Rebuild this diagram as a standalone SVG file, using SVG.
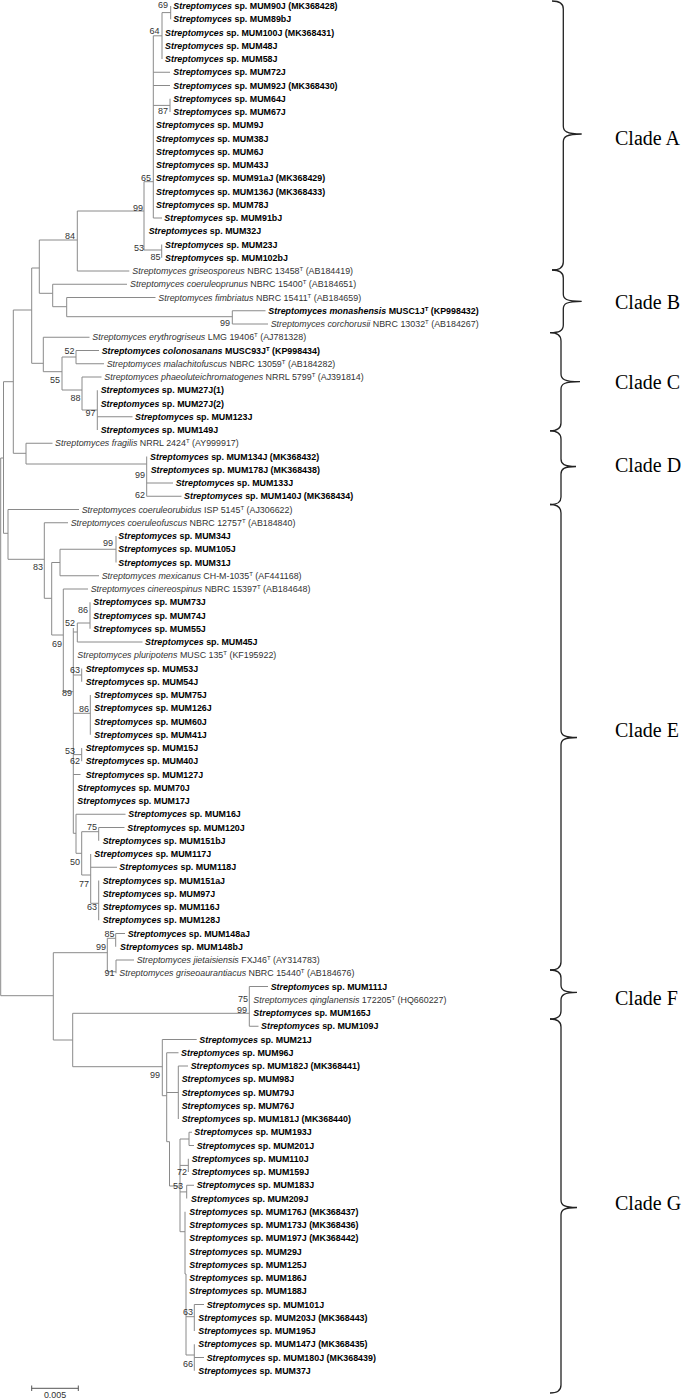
<svg xmlns="http://www.w3.org/2000/svg" width="685" height="1399" viewBox="0 0 685 1399">
<style>
.t{font-family:"Liberation Sans",Arial,sans-serif;font-size:8.9px}
.b{font-weight:bold;fill:#000}
.r{fill:#333}
.i{font-style:italic}
.bs{font-family:"Liberation Sans",Arial,sans-serif;font-size:9px;fill:#333;text-anchor:end}
.clade{font-family:"Liberation Serif","Times New Roman",serif;font-size:20px;fill:#000}
.tree{fill:none;stroke:#8a8a8a;stroke-width:1}
.brace{fill:none;stroke:#222;stroke-width:1.3}
</style>
<rect width="685" height="1399" fill="#fff"/>
<g id="connectors">
<path class="tree" d="M170.7 6V19.25 M162 12.6H170.7 M162 12.6V59 M153.3 35.8H162 M153.3 72.25H170 M153.3 85.5H170 M170 98.75V112 M153.3 105.4H170 M153.3 35.8V218H162 M144 181.7H153.3 M144 181.7V250 M161.7 244.5V257.75 M144 250H161.7 M77.3 211H144 M77.3 211V271H129.3 M39.3 240H77.3 M39.3 240V293.3H52.7 M52.7 284.25V306.7 M52.7 284.25H127 M52.7 306.7H66.7 M66.7 297.5V316.7 M66.7 297.5H155.5 M66.7 316.7H232.3 M232.3 310.75V324 M232.3 310.75H265.5 M232.3 324H268"/>
<path class="tree" d="M31.7 268H39.3 M31.7 268V363.3H43.3 M43.3 337.25V371.7 M43.3 337.25H89.5 M43.3 371.7H62 M62 357V390 M62 357H76 M62 390H82 M76 350.5V363.75 M76 350.5H99 M76 363.75H104 M82 377V410 M82 377H101.5 M82 410H97.3 M97.3 390.25V430 M97.3 416.75H132.5 M13.3 310H31.7 M13.3 310V453.3H26 M26 443.25V464 M26 443.25H52.5 M26 464H146.7 M146.7 456.5V496.25 M146.7 483H173 M146.7 496.25H181.5"/>
<path class="tree" d="M3.5 381.7H13.3 M3.5 381.7V533.3H8 M0.7 458H3.5 M8 509.5V559.3 M8 509.5H79 M8 559.3H44.3 M44.3 522.75V598.3 M44.3 522.75H68 M44.3 598.3H51.7 M51.7 562.5V635 M51.7 562.5H60 M51.7 635H63.3 M60 549.25V575.75 M60 549.25H116 M60 575.75H99 M116 536V562.5"/>
<path class="tree" d="M63.3 589V691.7 M63.3 589H88 M63.3 691.7H73.3 M73.3 628V833.3 M77.3 623V642 M73.3 632H77.3 M77.3 623H90 M77.3 642H142.5 M90 602.25V628.75 M81.7 668.5V681.75 M73.3 675H81.7 M90.3 695V734.75 M73.3 713.3H90.3 M81.7 748V761.25 M73.3 754.6H81.7 M73.3 774.5H80.5 M73.3 833.3H76 M76 814.25V853.3 M76 814.25H125.5 M76 853.3H81.7 M81.7 831.7V875 M81.7 831.7H98.7 M81.7 875H90.7 M98.7 827.5V840.75 M98.7 827.5H124.5 M90.7 854V903.3 M90.7 867.25H117 M90.7 903.3H98.7 M98.7 880.5V920.25"/>
<path class="tree" d="M0.7 458V995.7H53.3 M53.3 952.7V1040 M53.3 952.7H107.3 M53.3 1040H72.7 M107.3 938.3V971.7 M107.3 938.3H115.7 M107.3 971.7H116 M115.7 933.5V946.75 M115.7 933.5H125 M116 960V973.25 M116 960H134 M72.7 1013.3V1066.7 M72.7 1013.3H249.3 M72.7 1066.7H162.3 M249.3 986.5V1026.25 M249.3 986.5H268 M249.3 1026.25H258.5"/>
<path class="tree" d="M162.3 1039.5V1095.7 M162.3 1039.5H196.7 M162.3 1095.7H166.7 M166.7 1052.75V1141.7 M166.7 1052.75H178.5 M166.7 1092.5H178.3 M178.3 1066V1119 M178.3 1066H188 M166.7 1141.7H169.5V1186H180 M180 1139V1231.7 M180 1139H189 M189 1132.25V1145.5 M189 1132.25H192 M189 1145.5H194 M180 1165.4H188.3 M188.3 1158.75V1172 M180 1191.9H186.7 M186.7 1185.25V1198.5 M186.7 1185.25H194 M180 1231.7H185 M185 1211.75V1274H186 M186 1274V1355 M186 1316.7H194.3 M194.3 1304.5V1331 M194.3 1304.5H204 M186 1355H194.3 M194.3 1344.25V1370.75 M194.3 1357.5H204"/>
</g>
<g id="scale">
<path d="M31.7 1388.3H78.3 M31.7 1385.5V1391 M78.3 1385.5V1391" fill="none" stroke="#555" stroke-width="1"/>
<text x="55" y="1398" class="t r" text-anchor="middle">0.005</text>
</g>
<g id="bootstrap">
<text class="bs" x="168" y="7.7">69</text>
<text class="bs" x="159.5" y="34.2">64</text>
<text class="bs" x="168" y="114.2">87</text>
<text class="bs" x="151" y="181.2">65</text>
<text class="bs" x="143" y="211.2">99</text>
<text class="bs" x="75" y="239.2">84</text>
<text class="bs" x="144" y="250.7">53</text>
<text class="bs" x="160.5" y="259.9">85</text>
<text class="bs" x="230" y="326.2">99</text>
<text class="bs" x="74.5" y="354.2">52</text>
<text class="bs" x="60" y="383.2">55</text>
<text class="bs" x="80.5" y="401.2">88</text>
<text class="bs" x="95.5" y="415.7">97</text>
<text class="bs" x="145" y="477.9">99</text>
<text class="bs" x="145" y="498.2">62</text>
<text class="bs" x="113" y="545.5">99</text>
<text class="bs" x="43" y="570.2">83</text>
<text class="bs" x="88" y="613.2">86</text>
<text class="bs" x="75" y="625.9">52</text>
<text class="bs" x="62" y="647.2">69</text>
<text class="bs" x="80" y="673.2">63</text>
<text class="bs" x="72" y="695.9">89</text>
<text class="bs" x="89" y="711.5">86</text>
<text class="bs" x="75" y="753.9">53</text>
<text class="bs" x="80" y="763.9">62</text>
<text class="bs" x="97" y="830.2">75</text>
<text class="bs" x="80" y="864.9">50</text>
<text class="bs" x="89" y="886.5">77</text>
<text class="bs" x="97" y="909.9">63</text>
<text class="bs" x="114.5" y="936.5">85</text>
<text class="bs" x="106" y="949.9">99</text>
<text class="bs" x="114.5" y="975.5">91</text>
<text class="bs" x="248" y="1001.5">75</text>
<text class="bs" x="247" y="1012.5">99</text>
<text class="bs" x="160" y="1077.5">99</text>
<text class="bs" x="187" y="1174.9">72</text>
<text class="bs" x="183" y="1189.2">53</text>
<text class="bs" x="193" y="1314.9">63</text>
<text class="bs" x="193" y="1366.5">66</text>
</g>
<g id="n1"><text class="t b" x="173.3" y="9.2"><tspan class="i">Streptomyces</tspan> sp. MUM90J (MK368428)</text></g>
<g id="n2"><text class="t b" x="173.3" y="22.45"><tspan class="i">Streptomyces</tspan> sp. MUM89bJ</text></g>
<g id="n3"><text class="t b" x="165" y="35.7"><tspan class="i">Streptomyces</tspan> sp. MUM100J (MK368431)</text></g>
<g id="n4"><text class="t b" x="165" y="48.95"><tspan class="i">Streptomyces</tspan> sp. MUM48J</text></g>
<g id="n5"><text class="t b" x="165" y="62.2"><tspan class="i">Streptomyces</tspan> sp. MUM58J</text></g>
<g id="n6"><text class="t b" x="173.3" y="75.45"><tspan class="i">Streptomyces</tspan> sp. MUM72J</text></g>
<g id="n7"><text class="t b" x="173.3" y="88.7"><tspan class="i">Streptomyces</tspan> sp. MUM92J (MK368430)</text></g>
<g id="n8"><text class="t b" x="173.3" y="101.95"><tspan class="i">Streptomyces</tspan> sp. MUM64J</text></g>
<g id="n9"><text class="t b" x="173.3" y="115.2"><tspan class="i">Streptomyces</tspan> sp. MUM67J</text></g>
<g id="n10"><text class="t b" x="156" y="128.45"><tspan class="i">Streptomyces</tspan> sp. MUM9J</text></g>
<g id="n11"><text class="t b" x="156" y="141.7"><tspan class="i">Streptomyces</tspan> sp. MUM38J</text></g>
<g id="n12"><text class="t b" x="156" y="154.95"><tspan class="i">Streptomyces</tspan> sp. MUM6J</text></g>
<g id="n13"><text class="t b" x="156" y="168.2"><tspan class="i">Streptomyces</tspan> sp. MUM43J</text></g>
<g id="n14"><text class="t b" x="156" y="181.45"><tspan class="i">Streptomyces</tspan> sp. MUM91aJ (MK368429)</text></g>
<g id="n15"><text class="t b" x="156" y="194.7"><tspan class="i">Streptomyces</tspan> sp. MUM136J (MK368433)</text></g>
<g id="n16"><text class="t b" x="156" y="207.95"><tspan class="i">Streptomyces</tspan> sp. MUM78J</text></g>
<g id="n17"><text class="t b" x="164.3" y="221.2"><tspan class="i">Streptomyces</tspan> sp. MUM91bJ</text></g>
<g id="n18"><text class="t b" x="148.7" y="234.45"><tspan class="i">Streptomyces</tspan> sp. MUM32J</text></g>
<g id="n19"><text class="t b" x="165" y="247.7"><tspan class="i">Streptomyces</tspan> sp. MUM23J</text></g>
<g id="n20"><text class="t b" x="165" y="260.95"><tspan class="i">Streptomyces</tspan> sp. MUM102bJ</text></g>
<g id="n21"><text class="t r" x="132.3" y="274.2"><tspan class="i">Streptomyces griseosporeus</tspan> NBRC 13458<tspan font-size="6" dy="-3">T</tspan><tspan dy="3"> (AB184419)</tspan></text></g>
<g id="n22"><text class="t r" x="130" y="287.45"><tspan class="i">Streptomyces coeruleoprunus</tspan> NBRC 15400<tspan font-size="6" dy="-3">T</tspan><tspan dy="3"> (AB184651)</tspan></text></g>
<g id="n23"><text class="t r" x="158.3" y="300.7"><tspan class="i">Streptomyces fimbriatus</tspan> NBRC 15411<tspan font-size="6" dy="-3">T</tspan><tspan dy="3"> (AB184659)</tspan></text></g>
<g id="n24"><text class="t b" x="268.3" y="313.95"><tspan class="i">Streptomyces monashensis</tspan> MUSC1J<tspan font-size="6" dy="-3">T</tspan><tspan dy="3"> (KP998432)</tspan></text></g>
<g id="n25"><text class="t r" x="270.7" y="327.2"><tspan class="i">Streptomyces corchorusii</tspan> NBRC 13032<tspan font-size="6" dy="-3">T</tspan><tspan dy="3"> (AB184267)</tspan></text></g>
<g id="n26"><text class="t r" x="92.3" y="340.45"><tspan class="i">Streptomyces erythrogriseus</tspan> LMG 19406<tspan font-size="6" dy="-3">T</tspan><tspan dy="3"> (AJ781328)</tspan></text></g>
<g id="n27"><text class="t b" x="101.7" y="353.7"><tspan class="i">Streptomyces colonosanans</tspan> MUSC93J<tspan font-size="6" dy="-3">T</tspan><tspan dy="3"> (KP998434)</tspan></text></g>
<g id="n28"><text class="t r" x="106.7" y="366.95"><tspan class="i">Streptomyces malachitofuscus</tspan> NBRC 13059<tspan font-size="6" dy="-3">T</tspan><tspan dy="3"> (AB184282)</tspan></text></g>
<g id="n29"><text class="t r" x="104.3" y="380.2"><tspan class="i">Streptomyces phaeoluteichromatogenes</tspan> NRRL 5799<tspan font-size="6" dy="-3">T</tspan><tspan dy="3"> (AJ391814)</tspan></text></g>
<g id="n30"><text class="t b" x="100.7" y="393.45"><tspan class="i">Streptomyces</tspan> sp. MUM27J(1)</text></g>
<g id="n31"><text class="t b" x="100.7" y="406.7"><tspan class="i">Streptomyces</tspan> sp. MUM27J(2)</text></g>
<g id="n32"><text class="t b" x="135" y="419.95"><tspan class="i">Streptomyces</tspan> sp. MUM123J</text></g>
<g id="n33"><text class="t b" x="100.7" y="433.2"><tspan class="i">Streptomyces</tspan> sp. MUM149J</text></g>
<g id="n34"><text class="t r" x="55" y="446.45"><tspan class="i">Streptomyces fragilis</tspan> NRRL 2424<tspan font-size="6" dy="-3">T</tspan><tspan dy="3"> (AY999917)</tspan></text></g>
<g id="n35"><text class="t b" x="150" y="459.7"><tspan class="i">Streptomyces</tspan> sp. MUM134J (MK368432)</text></g>
<g id="n36"><text class="t b" x="150.7" y="472.95"><tspan class="i">Streptomyces</tspan> sp. MUM178J (MK368438)</text></g>
<g id="n37"><text class="t b" x="175.7" y="486.2"><tspan class="i">Streptomyces</tspan> sp. MUM133J</text></g>
<g id="n38"><text class="t b" x="184" y="499.45"><tspan class="i">Streptomyces</tspan> sp. MUM140J (MK368434)</text></g>
<g id="n39"><text class="t r" x="81.7" y="512.7"><tspan class="i">Streptomyces coeruleorubidus</tspan> ISP 5145<tspan font-size="6" dy="-3">T</tspan><tspan dy="3"> (AJ306622)</tspan></text></g>
<g id="n40"><text class="t r" x="70.7" y="525.95"><tspan class="i">Streptomyces coeruleofuscus</tspan> NBRC 12757<tspan font-size="6" dy="-3">T</tspan><tspan dy="3"> (AB184840)</tspan></text></g>
<g id="n41"><text class="t b" x="118.3" y="539.2"><tspan class="i">Streptomyces</tspan> sp. MUM34J</text></g>
<g id="n42"><text class="t b" x="118.3" y="552.45"><tspan class="i">Streptomyces</tspan> sp. MUM105J</text></g>
<g id="n43"><text class="t b" x="118.3" y="565.7"><tspan class="i">Streptomyces</tspan> sp. MUM31J</text></g>
<g id="n44"><text class="t r" x="101.7" y="578.95"><tspan class="i">Streptomyces mexicanus</tspan> CH-M-1035<tspan font-size="6" dy="-3">T</tspan><tspan dy="3"> (AF441168)</tspan></text></g>
<g id="n45"><text class="t r" x="90.7" y="592.2"><tspan class="i">Streptomyces cinereospinus</tspan> NBRC 15397<tspan font-size="6" dy="-3">T</tspan><tspan dy="3"> (AB184648)</tspan></text></g>
<g id="n46"><text class="t b" x="93.3" y="605.45"><tspan class="i">Streptomyces</tspan> sp. MUM73J</text></g>
<g id="n47"><text class="t b" x="93.3" y="618.7"><tspan class="i">Streptomyces</tspan> sp. MUM74J</text></g>
<g id="n48"><text class="t b" x="93.3" y="631.95"><tspan class="i">Streptomyces</tspan> sp. MUM55J</text></g>
<g id="n49"><text class="t b" x="145" y="645.2"><tspan class="i">Streptomyces</tspan> sp. MUM45J</text></g>
<g id="n50"><text class="t r" x="77.3" y="658.45"><tspan class="i">Streptomyces pluripotens</tspan> MUSC 135<tspan font-size="6" dy="-3">T</tspan><tspan dy="3"> (KF195922)</tspan></text></g>
<g id="n51"><text class="t b" x="85.7" y="671.7"><tspan class="i">Streptomyces</tspan> sp. MUM53J</text></g>
<g id="n52"><text class="t b" x="85.7" y="684.95"><tspan class="i">Streptomyces</tspan> sp. MUM54J</text></g>
<g id="n53"><text class="t b" x="94.3" y="698.2"><tspan class="i">Streptomyces</tspan> sp. MUM75J</text></g>
<g id="n54"><text class="t b" x="94.3" y="711.45"><tspan class="i">Streptomyces</tspan> sp. MUM126J</text></g>
<g id="n55"><text class="t b" x="94.3" y="724.7"><tspan class="i">Streptomyces</tspan> sp. MUM60J</text></g>
<g id="n56"><text class="t b" x="94.3" y="737.95"><tspan class="i">Streptomyces</tspan> sp. MUM41J</text></g>
<g id="n57"><text class="t b" x="85.7" y="751.2"><tspan class="i">Streptomyces</tspan> sp. MUM15J</text></g>
<g id="n58"><text class="t b" x="85.7" y="764.45"><tspan class="i">Streptomyces</tspan> sp. MUM40J</text></g>
<g id="n59"><text class="t b" x="85.7" y="777.7"><tspan class="i">Streptomyces</tspan> sp. MUM127J</text></g>
<g id="n60"><text class="t b" x="77.3" y="790.95"><tspan class="i">Streptomyces</tspan> sp. MUM70J</text></g>
<g id="n61"><text class="t b" x="77.3" y="804.2"><tspan class="i">Streptomyces</tspan> sp. MUM17J</text></g>
<g id="n62"><text class="t b" x="128.3" y="817.45"><tspan class="i">Streptomyces</tspan> sp. MUM16J</text></g>
<g id="n63"><text class="t b" x="127.3" y="830.7"><tspan class="i">Streptomyces</tspan> sp. MUM120J</text></g>
<g id="n64"><text class="t b" x="102.7" y="843.95"><tspan class="i">Streptomyces</tspan> sp. MUM151bJ</text></g>
<g id="n65"><text class="t b" x="94.3" y="857.2"><tspan class="i">Streptomyces</tspan> sp. MUM117J</text></g>
<g id="n66"><text class="t b" x="119.3" y="870.45"><tspan class="i">Streptomyces</tspan> sp. MUM118J</text></g>
<g id="n67"><text class="t b" x="102.7" y="883.7"><tspan class="i">Streptomyces</tspan> sp. MUM151aJ</text></g>
<g id="n68"><text class="t b" x="102.7" y="896.95"><tspan class="i">Streptomyces</tspan> sp. MUM97J</text></g>
<g id="n69"><text class="t b" x="102.7" y="910.2"><tspan class="i">Streptomyces</tspan> sp. MUM116J</text></g>
<g id="n70"><text class="t b" x="102.7" y="923.45"><tspan class="i">Streptomyces</tspan> sp. MUM128J</text></g>
<g id="n71"><text class="t b" x="127.7" y="936.7"><tspan class="i">Streptomyces</tspan> sp. MUM148aJ</text></g>
<g id="n72"><text class="t b" x="120" y="949.95"><tspan class="i">Streptomyces</tspan> sp. MUM148bJ</text></g>
<g id="n73"><text class="t r" x="136.7" y="963.2"><tspan class="i">Streptomyces jietaisiensis</tspan> FXJ46<tspan font-size="6" dy="-3">T</tspan><tspan dy="3"> (AY314783)</tspan></text></g>
<g id="n74"><text class="t r" x="119.3" y="976.45"><tspan class="i">Streptomyces griseoaurantiacus</tspan> NBRC 15440<tspan font-size="6" dy="-3">T</tspan><tspan dy="3"> (AB184676)</tspan></text></g>
<g id="n75"><text class="t b" x="270.7" y="989.7"><tspan class="i">Streptomyces</tspan> sp. MUM111J</text></g>
<g id="n76"><text class="t r" x="253.3" y="1002.95"><tspan class="i">Streptomyces qinglanensis</tspan> 172205<tspan font-size="6" dy="-3">T</tspan><tspan dy="3"> (HQ660227)</tspan></text></g>
<g id="n77"><text class="t b" x="253.3" y="1016.2"><tspan class="i">Streptomyces</tspan> sp. MUM165J</text></g>
<g id="n78"><text class="t b" x="261" y="1029.45"><tspan class="i">Streptomyces</tspan> sp. MUM109J</text></g>
<g id="n79"><text class="t b" x="199.3" y="1042.7"><tspan class="i">Streptomyces</tspan> sp. MUM21J</text></g>
<g id="n80"><text class="t b" x="181" y="1055.95"><tspan class="i">Streptomyces</tspan> sp. MUM96J</text></g>
<g id="n81"><text class="t b" x="190.7" y="1069.2"><tspan class="i">Streptomyces</tspan> sp. MUM182J (MK368441)</text></g>
<g id="n82"><text class="t b" x="181.7" y="1082.45"><tspan class="i">Streptomyces</tspan> sp. MUM98J</text></g>
<g id="n83"><text class="t b" x="181.7" y="1095.7"><tspan class="i">Streptomyces</tspan> sp. MUM79J</text></g>
<g id="n84"><text class="t b" x="181.7" y="1108.95"><tspan class="i">Streptomyces</tspan> sp. MUM76J</text></g>
<g id="n85"><text class="t b" x="181.7" y="1122.2"><tspan class="i">Streptomyces</tspan> sp. MUM181J (MK368440)</text></g>
<g id="n86"><text class="t b" x="194.3" y="1135.45"><tspan class="i">Streptomyces</tspan> sp. MUM193J</text></g>
<g id="n87"><text class="t b" x="196.7" y="1148.7"><tspan class="i">Streptomyces</tspan> sp. MUM201J</text></g>
<g id="n88"><text class="t b" x="191.7" y="1161.95"><tspan class="i">Streptomyces</tspan> sp. MUM110J</text></g>
<g id="n89"><text class="t b" x="191.7" y="1175.2"><tspan class="i">Streptomyces</tspan> sp. MUM159J</text></g>
<g id="n90"><text class="t b" x="196.7" y="1188.45"><tspan class="i">Streptomyces</tspan> sp. MUM183J</text></g>
<g id="n91"><text class="t b" x="191" y="1201.7"><tspan class="i">Streptomyces</tspan> sp. MUM209J</text></g>
<g id="n92"><text class="t b" x="189.3" y="1214.95"><tspan class="i">Streptomyces</tspan> sp. MUM176J (MK368437)</text></g>
<g id="n93"><text class="t b" x="189.3" y="1228.2"><tspan class="i">Streptomyces</tspan> sp. MUM173J (MK368436)</text></g>
<g id="n94"><text class="t b" x="189.3" y="1241.45"><tspan class="i">Streptomyces</tspan> sp. MUM197J (MK368442)</text></g>
<g id="n95"><text class="t b" x="189.3" y="1254.7"><tspan class="i">Streptomyces</tspan> sp. MUM29J</text></g>
<g id="n96"><text class="t b" x="189.3" y="1267.95"><tspan class="i">Streptomyces</tspan> sp. MUM125J</text></g>
<g id="n97"><text class="t b" x="189.3" y="1281.2"><tspan class="i">Streptomyces</tspan> sp. MUM186J</text></g>
<g id="n98"><text class="t b" x="189.3" y="1294.45"><tspan class="i">Streptomyces</tspan> sp. MUM188J</text></g>
<g id="n99"><text class="t b" x="206.7" y="1307.7"><tspan class="i">Streptomyces</tspan> sp. MUM101J</text></g>
<g id="n100"><text class="t b" x="198.3" y="1320.95"><tspan class="i">Streptomyces</tspan> sp. MUM203J (MK368443)</text></g>
<g id="n101"><text class="t b" x="198.3" y="1334.2"><tspan class="i">Streptomyces</tspan> sp. MUM195J</text></g>
<g id="n102"><text class="t b" x="198.3" y="1347.45"><tspan class="i">Streptomyces</tspan> sp. MUM147J (MK368435)</text></g>
<g id="n103"><text class="t b" x="206.7" y="1360.7"><tspan class="i">Streptomyces</tspan> sp. MUM180J (MK368439)</text></g>
<g id="n104"><text class="t b" x="198.3" y="1373.95"><tspan class="i">Streptomyces</tspan> sp. MUM37J</text></g>
<g id="cladeA"><path class="brace" d="M552 1C559 1 563.3 3 563.3 9V126C563.3 131 566 134 581.7 134C566 134 563.3 137 563.3 142V262C563.3 268 559 270 552 270"/><text class="clade" x="615" y="145">Clade A</text></g>
<g id="cladeB"><path class="brace" d="M552 270C559 270 563.3 272 563.3 278V294C563.3 299 566 301.3 581.7 301.3C566 301.3 563.3 304 563.3 309V325C563.3 331 559 332.6 550 332.6"/><text class="clade" x="615" y="308.5">Clade B</text></g>
<g id="cladeC"><path class="brace" d="M550 332.6C557 332.6 561 335 561 341V374C561 379 564 381.7 580 381.7C564 381.7 561 384 561 389V423C561 429 557 430.8 550 430.8"/><text class="clade" x="615" y="388.5">Clade C</text></g>
<g id="cladeD"><path class="brace" d="M550 430.8C557 430.8 561 433 561 439V459C561 464 564 466.5 576 466.5C564 466.5 561 469 561 474V497C561 503 557 504.5 550 504.5"/><text class="clade" x="615" y="472">Clade D</text></g>
<g id="cladeE"><path class="brace" d="M550 504.5C557 504.5 561 507 561 513V730C561 735 564 737.5 577 737.5C564 737.5 561 740 561 745V962C561 968 557 970 550 970"/><text class="clade" x="615" y="737">Clade E</text></g>
<g id="cladeF"><path class="brace" d="M550 970C557 970 561 972 561 978V985C561 990 564 992.4 577 992.4C564 992.4 561 995 561 1000V1011C561 1017 557 1019 550 1019"/><text class="clade" x="615" y="1005">Clade F</text></g>
<g id="cladeG"><path class="brace" d="M550 1019C557 1019 561 1021 561 1027V1200C561 1205 564 1207.5 577 1207.5C564 1207.5 561 1210 561 1215V1385C561 1391 557 1393 550 1393"/><text class="clade" x="615" y="1210">Clade G</text></g>
</svg>
